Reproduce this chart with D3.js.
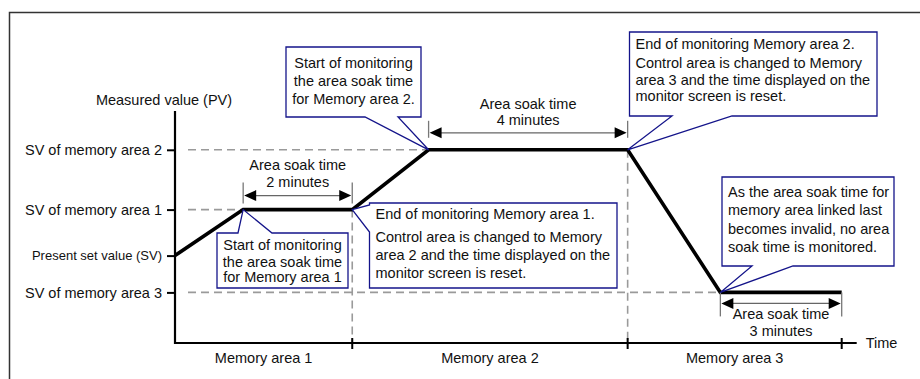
<!DOCTYPE html>
<html>
<head>
<meta charset="utf-8">
<script src="https://cdn.jsdelivr.net/npm/d3@7"></script>
<style>
  html, body { margin: 0; background: #fff; overflow: hidden; }
  svg { display: block; font-family: 'Liberation Sans', Arial, sans-serif; }
</style>
</head>
<body>
<div id="chart"></div>
<script>
// set value levels (arbitrary units, 0..100)
const levelNames = ['SV of memory area 2', 'SV of memory area 1', 'Present set value (SV)', 'SV of memory area 3']
const levelValues = [84, 58, 38, 22]

// measured value path (time units 0..100)
const pvTimes = [0, 10, 26, 37.2, 66.4, 80, 97.8]
const pvValues = [38, 58, 58, 84, 84, 22, 22]

// memory areas along the time axis
const areaBounds = [0, 26, 66.4, 97.8]
const areaNames = ['Memory area 1', 'Memory area 2', 'Memory area 3']

// area soak time intervals
const soakStart = [10, 37.2, 80]
const soakEnd = [26, 66.4, 97.8]
const soakLevel = [58, 84, 22]
const soakMinutes = ['2 minutes', '4 minutes', '3 minutes']

// callout texts, each anchored on a point of the PV path
const calloutText = [
  ['Start of monitoring', 'the area soak time', 'for Memory area 1'],
  ['End of monitoring Memory area 1.', 'Control area is changed to Memory', 'area 2 and the time displayed on the', 'monitor screen is reset.'],
  ['Start of monitoring', 'the area soak time', 'for Memory area 2.'],
  ['End of monitoring Memory area 2.', 'Control area is changed to Memory', 'area 3 and the time displayed on the', 'monitor screen is reset.'],
  ['As the area soak time for', 'memory area linked last', 'becomes invalid, no area', 'soak time is monitored.']
]
const calloutAnchor = [1, 2, 3, 4, 5]

const width = 920, height = 379
const x0 = 175, x1 = 856.7, yBottom = 343, yTop = 113

const svg = d3.select('#chart').append('svg')
  .attr('width', width)
  .attr('height', height)

const x = d3.scaleLinear().domain([0, 100]).range([x0, x1])
const y = d3.scaleLinear().domain([0, 100]).range([yBottom, yTop])

// frame
svg.append('path')
  .attr('d', `M9.5,${height} V12.5 H${width}`)
  .attr('fill', 'none')
  .attr('stroke', '#333')
  .attr('stroke-width', 1.5)

const dashed = svg.append('g')
  .attr('stroke', '#9a9a9a')
  .attr('stroke-width', 1.6)
  .attr('stroke-dasharray', '8,5')
  .attr('fill', 'none')

// horizontal guides from the axis to where the PV reaches the level
const reachTime = [37.2, 10, null, 80]
levelValues.forEach((v, i) => {
  if (reachTime[i] == null) return
  dashed.append('line')
    .attr('x1', x0 + 13).attr('x2', x(reachTime[i]))
    .attr('y1', y(v)).attr('y2', y(v))
})
// vertical guides at memory area changes
;[[26, 58], [66.4, 84]].forEach(([t, v]) => {
  dashed.append('line')
    .attr('x1', x(t)).attr('x2', x(t))
    .attr('y1', y(v)).attr('y2', yBottom)
})

// y axis
const yAxis = d3.axisLeft(y)
  .tickValues(levelValues)
  .tickFormat((d, i) => levelNames[i])
  .tickSize(8)
  .tickPadding(5)
const gy = svg.append('g')
  .attr('transform', `translate(${x0},0)`)
  .call(yAxis)
gy.select('.domain').remove()
gy.selectAll('.tick line').attr('stroke', '#000').attr('stroke-width', 2)
gy.selectAll('.tick text')
  .attr('fill', '#111')
  .style('font-size', (d, i) => i === 2 ? '13px' : '14.5px')
  .style('font-family', "'Liberation Sans', Arial, sans-serif")
svg.append('line')
  .attr('x1', x0).attr('x2', x0)
  .attr('y1', yTop - 2).attr('y2', yBottom + 1)
  .attr('stroke', '#000').attr('stroke-width', 2.2)

svg.append('text')
  .attr('x', 164).attr('y', 100)
  .attr('text-anchor', 'middle').attr('dominant-baseline', 'central')
  .style('font-size', '14.5px').attr('fill', '#111')
  .text('Measured value (PV)')

// x axis
svg.append('line')
  .attr('x1', x0).attr('x2', x1)
  .attr('y1', yBottom).attr('y2', yBottom)
  .attr('stroke', '#000').attr('stroke-width', 2.2)
svg.selectAll('line.xtick')
  .data(areaBounds.slice(1))
  .join('line')
  .attr('class', 'xtick')
  .attr('x1', d => x(d)).attr('x2', d => x(d))
  .attr('y1', yBottom - 5).attr('y2', yBottom + 6)
  .attr('stroke', '#000').attr('stroke-width', 2)
svg.append('text')
  .attr('x', x1 + 9).attr('y', yBottom)
  .attr('dominant-baseline', 'central')
  .style('font-size', '14.5px').attr('fill', '#111')
  .text('Time')
svg.selectAll('text.area')
  .data(areaNames)
  .join('text')
  .attr('class', 'area')
  .attr('x', (d, i) => (x(areaBounds[i]) + x(areaBounds[i + 1])) / 2)
  .attr('y', yBottom + 15)
  .attr('text-anchor', 'middle').attr('dominant-baseline', 'central')
  .style('font-size', '14.5px').attr('fill', '#111')
  .text(d => d)

// PV line
const pts = pvTimes.map((t, i) => [x(t), y(pvValues[i])])
svg.append('path')
  .attr('d', d3.line()(pts))
  .attr('fill', 'none')
  .attr('stroke', '#000')
  .attr('stroke-width', 3.6)

// soak time dimension arrows
const soakLayout = [
  { arrow: -14, ext: [-27, -6], label: [-45, -28] },
  { arrow: -17, ext: [-29, -12], label: [-46, -30] },
  { arrow: 11, ext: [0, 24], label: [22, 39] }
]
soakStart.forEach((s, i) => {
  const L = soakLayout[i]
  const ly = y(soakLevel[i])
  const xa = x(s), xb = x(soakEnd[i])
  const g = svg.append('g')
  ;[xa, xb].forEach(xx => g.append('line')
    .attr('x1', xx).attr('x2', xx)
    .attr('y1', ly + L.ext[0]).attr('y2', ly + L.ext[1])
    .attr('stroke', '#777').attr('stroke-width', 1.3))
  const ay = ly + L.arrow
  g.append('line')
    .attr('x1', xa + 10).attr('x2', xb - 10)
    .attr('y1', ay).attr('y2', ay)
    .attr('stroke', '#666').attr('stroke-width', 1.2)
  g.append('path')
    .attr('d', `M${xa + 1},${ay} l12,-5.5 v11 Z M${xb - 1},${ay} l-12,-5.5 v11 Z`)
    .attr('fill', '#000')
  const cx = (xa + xb) / 2
  ;['Area soak time', soakMinutes[i]].forEach((t, j) => g.append('text')
    .attr('x', cx).attr('y', ly + L.label[j])
    .attr('text-anchor', 'middle').attr('dominant-baseline', 'central')
    .style('font-size', '14.5px').attr('fill', '#111')
    .text(t))
})

// callouts
const calloutLayout = [
  { box: [217, 233, 348, 288], side: 'top', base: [238, 272], anchor: 'middle', lines: [245, 261.5, 277] },
  { box: [369.5, 203, 617, 288], side: 'left', base: [205, 232], anchor: 'start', lines: [213.5, 237, 255, 273] },
  { box: [286, 47, 421, 117], side: 'bottom', base: [365, 398], anchor: 'middle', lines: [62.5, 80.5, 99] },
  { box: [629.5, 32, 877, 116], side: 'bottom', base: [672, 732], anchor: 'start', lines: [43.5, 63, 79.5, 95.5] },
  { box: [722, 177, 894, 266], side: 'bottom', base: [752, 793], anchor: 'start', lines: [192, 210, 228.5, 246.5] }
]
calloutText.forEach((lines, i) => {
  const L = calloutLayout[i]
  const [bx0, by0, bx1, by1] = L.box
  const k = calloutAnchor[i]
  const tx = x(pvTimes[k]), ty = y(pvValues[k])
  const [a, b] = L.base
  let d
  if (L.side === 'top') d = `M${bx0},${by0} H${a} L${tx},${ty} L${b},${by0} H${bx1} V${by1} H${bx0} Z`
  else if (L.side === 'bottom') d = `M${bx0},${by0} H${bx1} V${by1} H${b} L${tx},${ty} L${a},${by1} H${bx0} Z`
  else d = `M${bx0},${by0} H${bx1} V${by1} H${bx0} V${b} L${tx},${ty} L${bx0},${a} Z`
  svg.append('path')
    .attr('d', d)
    .attr('fill', '#fff')
    .attr('stroke', '#14148a')
    .attr('stroke-width', 1.3)
    .attr('stroke-linejoin', 'miter')
  const textX = L.anchor === 'middle' ? (bx0 + bx1) / 2 : bx0 + 6
  svg.selectAll(null)
    .data(lines)
    .join('text')
    .attr('x', textX)
    .attr('y', (d, j) => L.lines[j])
    .attr('text-anchor', L.anchor)
    .attr('dominant-baseline', 'central')
    .style('font-size', '14.5px')
    .attr('fill', '#111')
    .text(d => d)
})
</script>
</body>
</html>
